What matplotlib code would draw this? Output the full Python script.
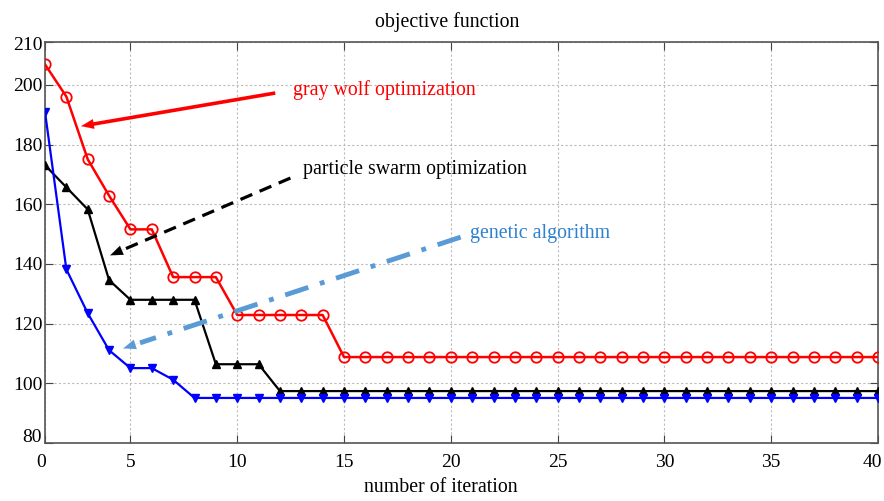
import matplotlib
matplotlib.use("Agg")
import matplotlib.pyplot as plt
import matplotlib.transforms as mtransforms

plt.rcParams['font.family'] = ['Liberation Serif', 'DejaVu Serif']

iterations = list(range(1, 41))
gwo = [206.9, 196.1, 175.1, 162.9, 151.6, 151.6, 135.6, 135.6, 135.6, 122.9,
       122.9, 122.9, 122.9, 122.9] + [108.8] * 26
pso = [173.1, 165.7, 158.3, 134.6, 128.0, 128.0, 128.0, 128.0, 106.4, 106.4,
       106.4] + [97.4] * 29
ga = [191.0, 138.2, 123.5, 111.1, 105.1, 105.1, 101.2] + [95.1] * 33

x_ticks = [1, 5, 10, 15, 20, 25, 30, 35, 40]
x_tick_labels = ['0', '5', '10', '15', '20', '25', '30', '35', '40']
y_ticks = [80, 100, 120, 140, 160, 180, 200, 214.4]
y_tick_labels = ['80', '100', '120', '140', '160', '180', '200', '210']

labels = ['gray wolf optimization', 'particle swarm optimization', 'genetic algorithm']

W, H = 884, 501
fig = plt.figure(figsize=(W / 100, H / 100), dpi=100)
ax = fig.add_axes([45 / W, 1 - 443 / H, (878 - 45) / W, (443 - 42) / H])

ax.plot(iterations, gwo, color='#ff0000', lw=1.8, marker='o', ms=7.5,
        mfc='none', mec='#ff0000', mew=1.3, zorder=3)
ax.plot(iterations, pso, color='black', lw=1.6, marker='^', ms=6,
        mfc='black', mec='black', zorder=4)
ax.plot(iterations, ga, color='#0000ff', lw=1.6, marker='v', ms=6,
        mfc='#0000ff', mec='#0000ff', zorder=5)

ax.set_xlim(1, 40)
ax.set_ylim(80, 214.4)
ax.set_xticks(x_ticks)
ax.set_xticklabels(x_tick_labels)
ax.set_yticks(y_ticks)
ax.set_yticklabels(y_tick_labels)
ax.tick_params(direction='in', top=True, right=True, labelsize=14, length=6,
               color='#444444')
ax.tick_params(axis='y', pad=2)
ax.tick_params(axis='x', pad=8)
ax.grid(True, linestyle=(0, (2, 2)), color='#bbbbbb', lw=0.8)
for s in ax.spines.values():
    s.set_color('#555555')
    s.set_linewidth(1.2)

# small offsets of edge tick labels, as in the reference
xl = ax.get_xticklabels()
xl[0].set_transform(xl[0].get_transform() +
                    mtransforms.ScaledTranslation(-4 / 100, 0, fig.dpi_scale_trans))
xl[-1].set_transform(xl[-1].get_transform() +
                     mtransforms.ScaledTranslation(-6 / 100, 0, fig.dpi_scale_trans))
yl = ax.get_yticklabels()
yl[0].set_transform(yl[0].get_transform() +
                    mtransforms.ScaledTranslation(0, 8 / 100, fig.dpi_scale_trans))
yl[-1].set_transform(yl[-1].get_transform() +
                     mtransforms.ScaledTranslation(0, -1 / 100, fig.dpi_scale_trans))

fig.text(447 / W, 1 - 22 / H, 'objective function', fontsize=14.3,
         ha='center', va='center')
fig.text(441 / W, 1 - 488 / H, 'number of iteration', fontsize=14.3,
         ha='center', va='center')


def arrow(x0, y0, x1, y1, color, ls, lw):
    ax.plot([x0, x1 + (x0 - x1) * 0.05], [y0, y1 + (y0 - y1) * 0.05],
            color=color, ls=ls, lw=lw, zorder=6, solid_capstyle='butt',
            dash_capstyle='butt')
    ax.annotate('', xy=(x1, y1),
                xytext=(x1 + (x0 - x1) * 0.08, y1 + (y0 - y1) * 0.08),
                arrowprops=dict(arrowstyle='-|>,head_length=0.9,head_width=0.35',
                                color=color, lw=0.1, shrinkA=0, shrinkB=0),
                zorder=6)


arrow(11.78, 197.3, 2.69, 186.2, '#ff0000', '-', 2.6)
ax.text(12.6, 198.3, labels[0], color='#ff0000', fontsize=14.3, va='center',
        ha='left')

arrow(12.49, 168.8, 4.05, 142.9, 'black', (0, (4, 2.5)), 2.3)
ax.text(13.1, 171.5, labels[1], color='black', fontsize=14.3, va='center',
        ha='left')

arrow(20.46, 149.0, 4.66, 111.7, '#5b9bd5', (0, (5, 2.5, 1, 2.5)), 3.5)
ax.text(20.9, 150.3, labels[2], color='#2e80d0', fontsize=14.3, va='center',
        ha='left')

fig.savefig('out.png', dpi=100)
